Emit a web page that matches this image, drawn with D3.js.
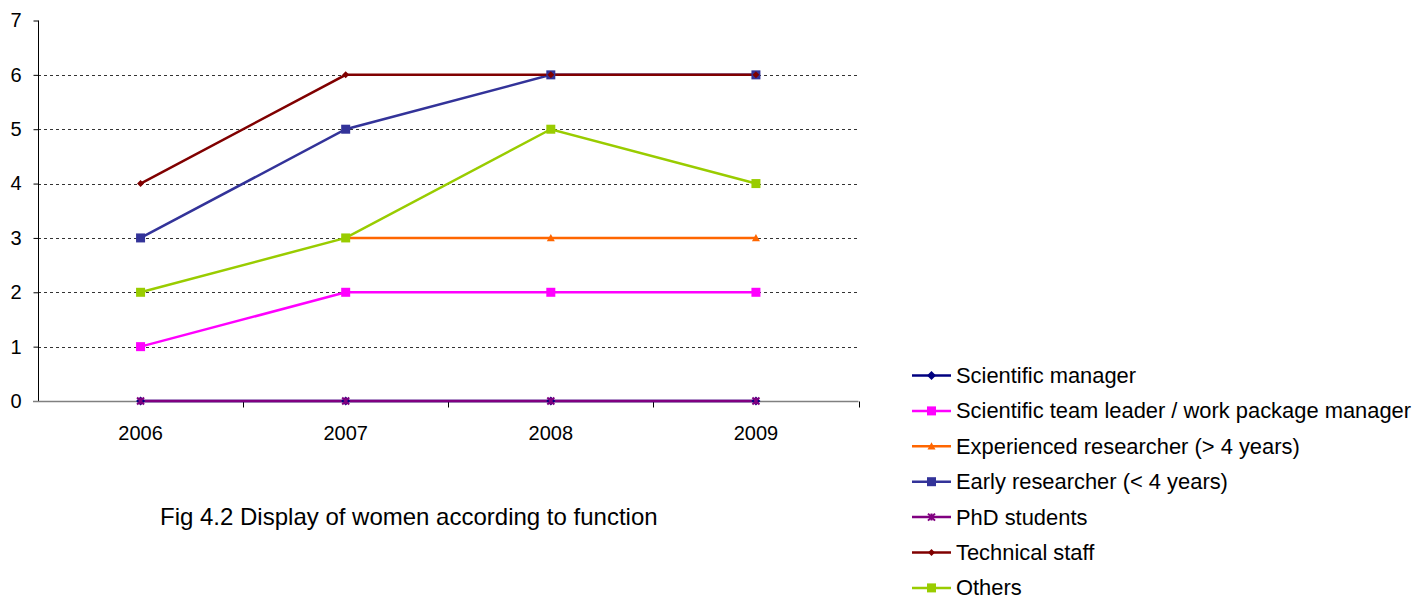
<!DOCTYPE html>
<html>
<head>
<meta charset="utf-8">
<script src="https://cdn.jsdelivr.net/npm/d3@7"></script>
<style>
  html, body { margin: 0; padding: 0; background: #fff; }
  svg { display: block; font-family: "Liberation Sans", Arial, sans-serif; }
</style>
</head>
<body>
<svg id="chart" width="1413" height="599"></svg>
<script>
// Categories and tick labels
const years = ["2006", "2007", "2008", "2009"];
const yTicks = [0, 1, 2, 3, 4, 5, 6, 7];

// Series names
const seriesNames = [
  "Scientific manager",
  "Scientific team leader / work package manager",
  "Experienced researcher (> 4 years)",
  "Early researcher (< 4 years)",
  "PhD students",
  "Technical staff",
  "Others"
];

// Series values per year (null = no value)
const scientificManager = [0, 0, 0, 0];
const teamLeader = [1, 2, 2, 2];
const experienced = [null, 3, 3, 3];
const early = [3, 5, 6, 6];
const phd = [0, 0, 0, 0];
const technical = [4, 6, 6, 6];
const others = [2, 3, 5, 4];

const seriesValues = [scientificManager, teamLeader, experienced, early, phd, technical, others];
const seriesColors = ["#000080", "#FF00FF", "#FF6600", "#333399", "#800080", "#800000", "#99CC00"];
const seriesMarkers = ["diamond", "square", "triangle", "square", "star", "diamondSmall", "square"];

const series = seriesNames.map((name, i) => ({
  name, color: seriesColors[i], marker: seriesMarkers[i],
  points: years.map((y, j) => ({ year: y, value: seriesValues[i][j] }))
}));

const svg = d3.select("#chart");
const plot = { left: 38, right: 858.5, top: 20.5, bottom: 401 };

const x = d3.scaleBand().domain(years).range([plot.left, plot.right]);
const xc = d => x(d) + x.bandwidth() / 2;
const y = d3.scaleLinear().domain([0, 7]).range([plot.bottom, plot.top]);

// Horizontal dashed gridlines
svg.append("g").selectAll("line")
  .data(yTicks.filter(t => t > 0 && t < 7))
  .join("line")
  .attr("x1", plot.left).attr("x2", plot.right)
  .attr("y1", d => Math.round(y(d)) + 0.5).attr("y2", d => Math.round(y(d)) + 0.5)
  .attr("stroke", "#333").attr("stroke-width", 1)
  .attr("stroke-dasharray", "3,3");

// Y axis
const yAxis = svg.append("g")
  .attr("transform", `translate(${plot.left + 0.5},0)`)
  .call(d3.axisLeft(y).tickValues(yTicks).tickFormat(d3.format("d")).tickSize(5).tickPadding(12));
yAxis.select(".domain").attr("stroke", "#000").attr("d", `M0,${y(7)}V${y(0)}`);
yAxis.selectAll(".tick line").attr("stroke", "#000");
yAxis.selectAll(".tick text").attr("font-size", 20).attr("fill", "#000")
  .attr("font-family", "Liberation Sans, Arial, sans-serif");

// X axis (category boundaries carry the ticks)
const xAxisG = svg.append("g").attr("transform", `translate(0,${Math.round(plot.bottom) + 0.5})`);
xAxisG.append("line")
  .attr("x1", plot.left - 5).attr("x2", plot.right)
  .attr("stroke", "#808080").attr("stroke-width", 1.5);
const bounds = years.slice(1).map(d => x(d)).concat([plot.right]);
xAxisG.selectAll("line.tk").data(bounds).join("line").attr("class", "tk")
  .attr("x1", d => Math.round(d) + 0.5).attr("x2", d => Math.round(d) + 0.5)
  .attr("y1", 0).attr("y2", 6)
  .attr("stroke", "#000").attr("stroke-width", 1);
xAxisG.selectAll("text").data(years).join("text")
  .attr("x", d => xc(d)).attr("y", 38)
  .attr("text-anchor", "middle").attr("font-size", 20).attr("fill", "#000")
  .text(d => d);

// Marker drawing
function drawMarker(g, type, color, cx, cy) {
  if (type === "diamond") {
    const s = 4.5;
    g.append("path").attr("d", `M${cx},${cy - s}L${cx + s},${cy}L${cx},${cy + s}L${cx - s},${cy}Z`).attr("fill", color);
  } else if (type === "diamondSmall") {
    const s = 3.5;
    g.append("path").attr("d", `M${cx},${cy - s}L${cx + s},${cy}L${cx},${cy + s}L${cx - s},${cy}Z`).attr("fill", color);
  } else if (type === "square") {
    const s = 4.5;
    g.append("rect").attr("x", cx - s).attr("y", cy - s).attr("width", 2 * s).attr("height", 2 * s).attr("fill", color);
  } else if (type === "triangle") {
    const s = 4;
    g.append("path").attr("d", `M${cx},${cy - s}L${cx + s},${cy + s * 0.8}L${cx - s},${cy + s * 0.8}Z`).attr("fill", color);
  } else if (type === "star") {
    const s = 3.5;
    g.append("path").attr("d", `M${cx - s},${cy - s}L${cx + s},${cy + s}M${cx + s},${cy - s}L${cx - s},${cy + s}M${cx},${cy - s}V${cy + s}`)
      .attr("stroke", color).attr("stroke-width", 2).attr("fill", "none");
  }
}

// Lines first, then markers on top
const line = d3.line()
  .defined(d => d.value !== null)
  .x(d => xc(d.year)).y(d => y(d.value));

svg.append("g").selectAll("path")
  .data(series).join("path")
  .attr("d", d => line(d.points))
  .attr("fill", "none").attr("stroke", d => d.color).attr("stroke-width", 2.5);

const markerG = svg.append("g");
series.forEach(s => {
  s.points.filter(p => p.value !== null).forEach(p => {
    drawMarker(markerG, s.marker, s.color, xc(p.year), y(p.value));
  });
});

// Legend
const legend = svg.append("g");
const legendTop = 375.5, legendStep = 35.4;
series.forEach((s, i) => {
  const ly = legendTop + i * legendStep;
  legend.append("line").attr("x1", 912).attr("x2", 951).attr("y1", ly).attr("y2", ly)
    .attr("stroke", s.color).attr("stroke-width", 2.5);
  drawMarker(legend, s.marker, s.color, 931.5, ly);
  legend.append("text").attr("x", 956).attr("y", ly).attr("dy", "0.34em")
    .attr("font-size", 21.9).attr("fill", "#000").text(s.name);
});

// Caption
svg.append("text").attr("x", 160).attr("y", 517).attr("dy", "0.35em")
  .attr("font-size", 24).attr("fill", "#000")
  .text("Fig 4.2 Display of women according to function");
</script>
</body>
</html>
